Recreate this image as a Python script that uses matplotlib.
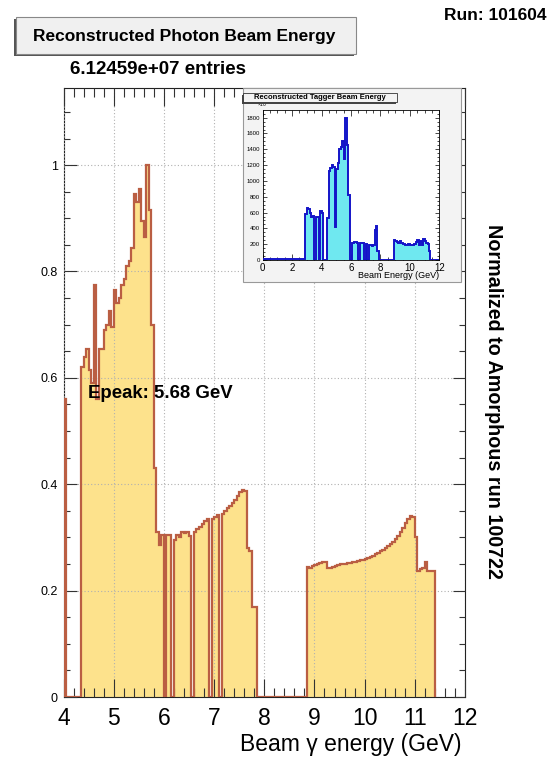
import numpy as np
import matplotlib
matplotlib.use('Agg')
import matplotlib.pyplot as plt
from matplotlib.patches import Rectangle
from matplotlib.ticker import MultipleLocator

plt.rcParams['font.family'] = ['Liberation Sans', 'DejaVu Sans']

W, H = 547, 771   # output size in pixels

# ---- main histogram: photon beam energy normalized to amorphous run ----
# 0.05 GeV bins, first bin starts at 4.00 GeV, last one ends at 11.40 GeV
E_LO, E_W = 4.0, 0.05
ratio = [
    0.56, 0, 0, 0, 0, 0, 0,                                   # 4.00 - 4.30
    0.62, 0.64, 0.655, 0.615, 0.59, 0.775, 0.56, 0.655,       # 4.35 - 4.70
    0.655, 0.69, 0.70, 0.725, 0.695, 0.765, 0.74, 0.75,       # 4.75 - 5.10
    0.775, 0.785, 0.81, 0.82, 0.845, 0.945, 0.93, 0.955,      # 5.15 - 5.50
    0.895, 0.865, 1.0, 0.915, 0.70, 0.43, 0.31, 0.285,       # 5.55 - 5.90
    0.305, 0, 0.305, 0.305, 0, 0.295, 0.305, 0.30,            # 5.95 - 6.30
    0.31, 0.308, 0.31, 0.303, 0, 0.31, 0.315, 0.32,           # 6.35 - 6.70
    0.325, 0.33, 0.335, 0, 0.335, 0.338, 0.342, 0,            # 6.75 - 7.10
    0.345, 0.35, 0.355, 0.36, 0.365, 0.37, 0.378, 0.385,      # 7.15 - 7.50
    0.39, 0.388, 0.28, 0.275, 0.17, 0.17,                     # 7.55 - 7.80
    0, 0, 0, 0, 0, 0, 0, 0, 0, 0,                             # 7.85 - 8.30
    0, 0, 0, 0, 0, 0, 0, 0, 0, 0,                             # 8.35 - 8.80
    0.245, 0.243, 0.246, 0.248, 0.25, 0.252, 0.253, 0.253,    # 8.85 - 9.20
    0.243, 0.242, 0.245, 0.247, 0.248, 0.25, 0.25, 0.25,      # 9.25 - 9.60
    0.251, 0.252, 0.253, 0.254, 0.255, 0.257, 0.258, 0.259,   # 9.65 - 10.00
    0.261, 0.263, 0.266, 0.268, 0.271, 0.274, 0.277, 0.28,    # 10.05 - 10.40
    0.284, 0.288, 0.292, 0.297, 0.302, 0.31, 0.318, 0.327,   # 10.45 - 10.80
    0.334, 0.34, 0.338, 0.30, 0.236, 0.24, 0.243, 0.253,      # 10.85 - 11.20
    0.236, 0.236, 0.236,                                      # 11.25 - 11.35
]

# ---- inset: tagger beam energy (counts x 10^3), 0.1 GeV bins from 0 ----
T_LO, T_W = 0.0, 0.1
tagger = [
    15] * 29 + [                                              # 0.0 - 2.8
    580, 655, 640, 600, 545, 560, 0, 540, 545, 0,             # 2.9 - 3.8
    620, 590, 0, 0, 0, 530, 1130, 1160, 1200, 1180,           # 3.9 - 4.8
    420, 1150, 1230, 1400, 1430, 1500, 1280, 1800, 1450, 820, # 4.9 - 5.8
    0, 0, 210, 230, 225, 220, 0, 215, 210, 215,               # 5.9 - 6.8
    0, 200, 0, 190, 185, 180, 190, 380, 430, 120,             # 6.9 - 7.8
    0, 0, 0, 0, 0, 0, 0, 0, 0, 0,                             # 7.9 - 8.8
    250, 240, 230, 220, 235, 215, 200, 205, 195, 190,         # 8.9 - 9.8
    200, 195, 190, 185, 200, 230, 250, 195, 245, 190,         # 9.9 - 10.8
    260, 240, 220, 200, 120,                                  # 10.9 - 11.3
    0, 0, 0, 0, 0, 0,                                         # 11.4 - 11.9
]

x_ticks = [4, 5, 6, 7, 8, 9, 10, 11, 12]
y_ticks = [0, 0.2, 0.4, 0.6, 0.8, 1.0]
y_tick_labels = ['0', '0.2', '0.4', '0.6', '0.8', '1']
inset_x_ticks = [0, 2, 4, 6, 8, 10, 12]
inset_y_ticks = [0, 200, 400, 600, 800, 1000, 1200, 1400, 1600, 1800]


def px_rect(x0, y0, x1, y1, **kw):
    """Rectangle given in pixel coords (origin top-left) -> figure coords."""
    return Rectangle((x0 / W, 1 - y1 / H), (x1 - x0) / W, (y1 - y0) / H,
                     transform=fig.transFigure, **kw)


def px_axes(x0, y0, x1, y1):
    return [x0 / W, 1 - y1 / H, (x1 - x0) / W, (y1 - y0) / H]


fig = plt.figure(figsize=(W / 100, H / 100), dpi=100)
fig.patch.set_facecolor('white')

# ===== main pad =====
ax = fig.add_axes(px_axes(63.5, 88, 465, 697))
edges = E_LO + E_W * np.arange(len(ratio) + 1)
ax.stairs(ratio, edges, fill=True, color='#FDE28C', zorder=2)
ax.stairs(ratio, edges, baseline=0, color='#BA5E43', lw=1.6, zorder=3)

ax.set_xlim(4, 12)
ax.set_ylim(0, 1.145)
ax.set_xticks(x_ticks)
ax.set_xticklabels([str(v) for v in x_ticks])
ax.set_yticks(y_ticks)
ax.set_yticklabels(y_tick_labels)
ax.xaxis.set_minor_locator(MultipleLocator(0.2))
ax.yaxis.set_minor_locator(MultipleLocator(0.05))
ax.set_axisbelow(False)
ax.grid(True, which='major', ls=(0, (1, 2)), color='#b0b0b0', lw=0.8)
ax.tick_params(which='both', direction='in', top=True, right=True,
               color='#333333', width=0.8)
ax.tick_params(axis='x', which='major', length=13, labelsize=16.5, pad=7)
ax.tick_params(axis='x', which='minor', length=6.5)
ax.tick_params(axis='y', which='major', length=9, labelsize=9, pad=4)
ax.tick_params(axis='y', which='minor', length=4.5)
for s in ax.spines.values():
    s.set_linewidth(0.8)
    s.set_color('#222222')

ax.text(4.485, 0.571, 'Epeak: 5.68 GeV', fontsize=13.4, fontweight='bold',
        ha='left', va='center', zorder=4)

fig.text(462 / W, 1 - 745 / H, 'Beam γ energy (GeV)', fontsize=16.5,
         ha='right', va='center')
fig.text(493 / W, 1 - 401 / H, 'Normalized to Amorphous run 100722',
         rotation=-90, fontsize=14.2, fontweight='bold', ha='center', va='center')

# title box with ROOT-style shadow
fig.add_artist(px_rect(14, 19, 354, 56, facecolor='#555555', lw=0, zorder=3))
fig.add_artist(px_rect(16, 17, 356, 54, facecolor='#f0f0f0', edgecolor='#888888',
                       lw=0.8, zorder=4))
fig.text(184 / W, 1 - 36 / H, 'Reconstructed Photon Beam Energy', fontsize=12.5,
         fontweight='bold', ha='center', va='center', zorder=5)
fig.text(70 / W, 1 - 70 / H, '6.12459e+07 entries', fontsize=13.5,
         fontweight='bold', ha='left', va='center')
fig.text(444 / W, 1 - 15 / H, 'Run: 101604', fontsize=12.5, fontweight='bold',
         ha='left', va='center')

# ===== inset pad =====
fig.add_artist(px_rect(243, 88, 461, 282, facecolor='#f3f3f3', edgecolor='#999999',
                       lw=0.8, zorder=5))
ax2 = fig.add_axes(px_axes(262.7, 110, 439.3, 260), zorder=6)
tedges = T_LO + T_W * np.arange(len(tagger) + 1)
ax2.stairs(tagger, tedges, fill=True, color='#6FE8F0', zorder=2)
ax2.stairs(tagger, tedges, baseline=0, color='#1414C8', lw=1.4, zorder=3)
ax2.set_xlim(0, 12)
ax2.set_ylim(0, 1897)
ax2.set_xticks(inset_x_ticks)
ax2.set_yticks(inset_y_ticks)
ax2.xaxis.set_minor_locator(MultipleLocator(0.5))
ax2.yaxis.set_minor_locator(MultipleLocator(50))
ax2.tick_params(which='both', direction='in', top=True, right=True, width=0.5)
ax2.tick_params(axis='x', which='major', length=4, labelsize=7, pad=2)
ax2.tick_params(axis='x', which='minor', length=2)
ax2.tick_params(axis='y', which='major', length=3, labelsize=4.3, pad=2)
ax2.tick_params(axis='y', which='minor', length=1.5)
for s in ax2.spines.values():
    s.set_linewidth(0.6)
ax2.set_xlabel('Beam Energy (GeV)', fontsize=6.5, loc='right', labelpad=-1)
ax2.text(0.0, 1.005, '×10$^3$', transform=ax2.transAxes, fontsize=3.5,
         ha='center', va='bottom')

fig.add_artist(px_rect(241.5, 94.5, 395.5, 103.5, facecolor='#444444', lw=0, zorder=7))
fig.add_artist(px_rect(243, 93, 397, 102, facecolor='#f3f3f3', edgecolor='#333333',
                       lw=0.6, zorder=8))
fig.text(320 / W, 1 - 97.5 / H, 'Reconstructed Tagger Beam Energy', fontsize=5.5,
         fontweight='bold', ha='center', va='center', zorder=9)

fig.savefig('out.png', dpi=100)
